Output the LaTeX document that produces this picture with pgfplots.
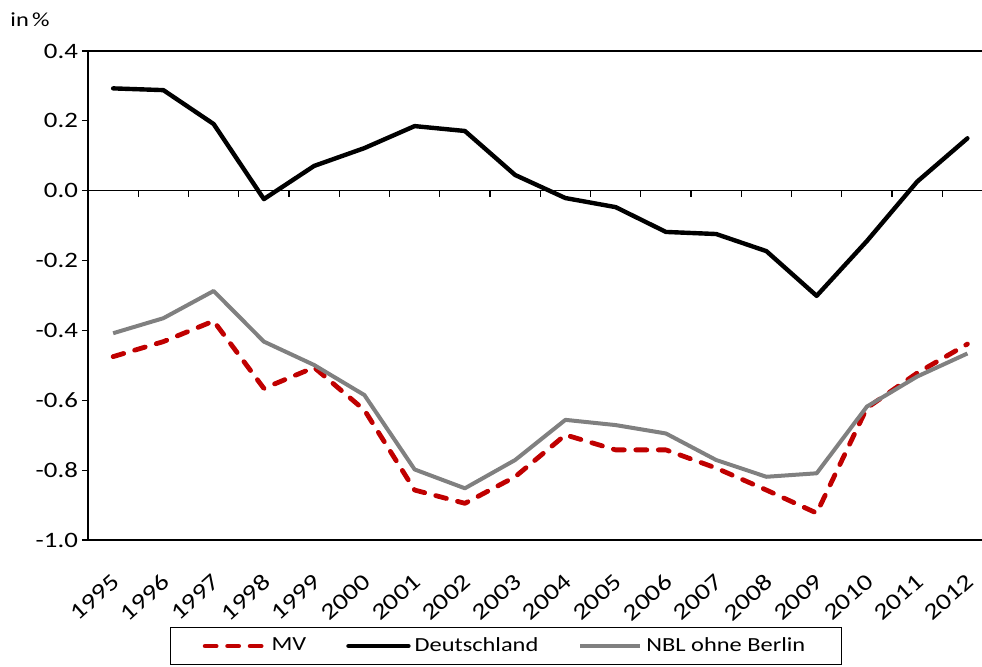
\documentclass[border=0pt]{standalone}
\usepackage{fontspec}
\setmainfont{Carlito}[FakeStretch=1.22]
\usepackage{pgfplots}
\pgfplotsset{compat=1.18}
\definecolor{mvred}{RGB}{192,0,0}
\definecolor{nblgray}{RGB}{128,128,128}

\pgfplotstableread{
x MV DE NBL
0  -0.475  0.293 -0.408
1  -0.432  0.288 -0.365
2  -0.373  0.191 -0.287
3  -0.566 -0.024 -0.432
4  -0.506  0.071 -0.499
5  -0.628  0.122 -0.585
6  -0.857  0.185 -0.798
7  -0.895  0.171 -0.852
8  -0.819  0.045 -0.771
9  -0.699 -0.021 -0.656
10 -0.742 -0.047 -0.671
11 -0.742 -0.118 -0.695
12 -0.794 -0.124 -0.771
13 -0.857 -0.173 -0.819
14 -0.923 -0.301 -0.809
15 -0.622 -0.144 -0.618
16 -0.522  0.026 -0.532
17 -0.439  0.150 -0.466
}\datatable

\begin{document}
\begin{tikzpicture}
\path[use as bounding box] (0,0) rectangle (491pt,333pt);
\clip (0,0) rectangle (491pt,333pt);
\begin{axis}[
  at={(44pt,63pt)}, anchor=south west,
  scale only axis, width=447pt, height=244.5pt,
  xmin=-0.5, xmax=17.29, ymin=-1, ymax=0.4,
  axis y line*=left, axis x line*=bottom,
  axis line style={line width=0.7pt},
  xtick={0,...,17},
  xticklabels={1995,1996,1997,1998,1999,2000,2001,2002,2003,2004,2005,2006,2007,2008,2009,2010,2011,2012},
  x tick style={draw=none},
  xticklabel style={xshift=1.5pt, yshift=-16pt, rotate=42, anchor=east, inner sep=0pt, font=\fontsize{11.5}{13}\selectfont},
  ytick={-1,-0.8,-0.6,-0.4,-0.2,0,0.2,0.4},
  y tick style={line width=0.6pt, black},
  tick align=outside, major tick length=3pt,
  yticklabel style={xshift=1.5pt, font=\fontsize{11}{13}\selectfont, /pgf/number format/.cd, fixed, fixed zerofill, precision=1, assume math mode=true},
  legend columns=3,
  legend style={at={(0.4676,0)}, anchor=north, yshift=-43.5pt, draw=black, line width=0.6pt,
    font=\fontsize{10}{12}\selectfont, inner xsep=16pt, inner ysep=3pt,
    /tikz/every even column/.append style={column sep=18pt}},
  legend image code/.code={\draw[#1] (0pt,0pt) -- (30pt,0pt);},
  clip=false,
]
\draw[line width=0.7pt] (rel axis cs:0,1) -- (rel axis cs:1,1);
\draw[line width=0.6pt] (axis cs:-0.5,0) -- (axis cs:17.29,0);
\pgfplotsinvokeforeach{0.5,1.5,...,16.5}{\draw[line width=0.6pt] (axis cs:#1,0) -- (axis cs:#1,-0.0172);}
\addplot[mvred, line width=2.4pt, line cap=round, line join=round, dash pattern=on 5.5pt off 5.75pt] table[x=x,y=MV] {\datatable};
\addlegendentry{MV}
\addplot[black, line width=2.2pt, line cap=round, line join=round] table[x=x,y=DE] {\datatable};
\addlegendentry{Deutschland}
\addplot[nblgray, line width=2pt, line join=round] table[x=x,y=NBL] {\datatable};
\addlegendentry{NBL ohne Berlin}
\node[anchor=west, inner sep=0pt, font=\fontsize{10}{12}\selectfont] at (axis description cs:-0.0872,1.063) {in\,\%};
\end{axis}
\end{tikzpicture}
\end{document}
